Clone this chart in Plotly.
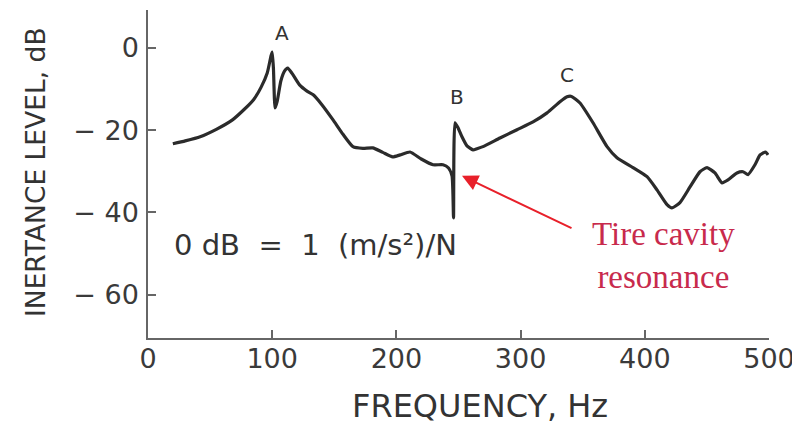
import plotly.graph_objects as go

# Frequency (Hz) and inertance level (dB)
freq = [20, 30, 42, 55, 68, 78, 85, 91, 96, 99, 100, 101, 102.3, 104, 107, 110, 112.5, 116,
        122, 128, 133, 140, 149, 157, 165, 173, 181, 189, 197, 203, 211, 220, 229.5, 237.5,
        242, 244.8, 246, 247.2, 249.6, 252.8, 256.8, 261.7, 264.9, 269.7, 283.4, 297.1, 310,
        321.3, 331.7, 337.4, 341, 347.8, 358.3, 369.6, 377.6, 390.5, 401.8, 409.8, 417.9,
        421.9, 428.3, 436.4, 444.4, 450.1, 456.5, 462.2, 467, 474.2, 479.1, 483.1, 488.7,
        492.8, 497.3, 499.2]
level = [-23.3, -22.6, -21.6, -19.8, -17.5, -14.8, -12.6, -9.6, -6.1, -2.0, -1.0, -5.0, -14.6,
         -13.0, -8.0, -5.6, -4.9, -6.2, -9.0, -10.5, -11.4, -13.8, -17.5, -21.0, -24.0, -24.4,
         -24.3, -25.4, -26.5, -26.0, -25.3, -27.0, -28.4, -28.4, -29.2, -31.1, -41.3, -18.2,
         -19.4, -21.6, -23.8, -24.8, -24.5, -24.0, -21.9, -19.9, -18.0, -15.8, -13.1, -11.9,
         -11.8, -13.4, -18.2, -24.0, -26.7, -29.1, -31.3, -34.5, -38.1, -38.9, -37.6, -33.8,
         -30.1, -29.1, -30.4, -32.8, -32.1, -30.4, -30.1, -30.8, -28.4, -26.0, -25.3, -26.0]

x_ticks = [0, 100, 200, 300, 400, 500]
x_ticktext = ["0", "100", "200", "300", "400", "500"]
y_ticks = [0, -20, -40, -60]
y_ticktext = ["0", "\u2212 20", "\u2212 40", "\u2212 60"]

peak_labels = ["A", "B", "C"]
peak_x = [107.9, 248.8, 337.4]
peak_y = [3.6, -11.9, -6.6]

SANS = "DejaVu Sans, Liberation Sans, Arial, sans-serif"

fig = go.Figure()
fig.add_trace(go.Scatter(x=freq, y=level, mode="lines",
                         line=dict(color="#2b2b2b", width=3.2, shape="spline", smoothing=0.5),
                         showlegend=False))

axis_font = dict(family=SANS, size=27, color="#3a3a3a")

fig.update_layout(
    width=792, height=417,
    margin=dict(l=140, r=31, t=2, b=87),
    paper_bgcolor="white", plot_bgcolor="white",
    font=dict(family=SANS, color="#333333"),
    xaxis=dict(range=[0, 500], tickvals=x_ticks, ticktext=x_ticktext,
               showgrid=False, zeroline=False, showline=True, linecolor="#666666",
               linewidth=1.5, ticks="inside", ticklen=8, tickcolor="#666666",
               tickwidth=1.5, tickfont=axis_font, ticklabelstandoff=-4),
    yaxis=dict(range=[-70.5, 9.2], tickvals=y_ticks, ticktext=y_ticktext,
               showgrid=False, zeroline=False, showline=True, linecolor="#666666",
               linewidth=1.5, ticks="inside", ticklen=8, tickcolor="#666666",
               tickwidth=1.5, tickfont=axis_font, ticklabelstandoff=2),
)

annotations = []
for lab, px, py in zip(peak_labels, peak_x, peak_y):
    annotations.append(dict(x=px, y=py, xref="x", yref="y", text=lab, showarrow=False,
                            font=dict(family=SANS, size=20, color="#333333"),
                            xanchor="center", yanchor="middle"))

annotations.append(dict(x=19.3, y=-47.9, xref="x", yref="y",
                        text="0 dB\u00a0 =\u00a0 1\u00a0 (m/s\u00b2)/N", showarrow=False,
                        font=dict(family=SANS, size=29, color="#333333"),
                        xanchor="left", yanchor="middle"))

annotations.append(dict(x=414.7, y=-50.5, xref="x", yref="y",
                        text="Tire cavity<br>resonance", showarrow=False,
                        font=dict(family="Liberation Serif, Times New Roman, serif",
                                  size=33, color="#c82a4c"),
                        xanchor="center", yanchor="middle"))

annotations.append(dict(x=252.8, y=-31.1, xref="x", yref="y",
                        ax=342.2, ay=-44.0, axref="x", ayref="y",
                        text="", showarrow=True, arrowhead=2, arrowsize=1.6,
                        arrowwidth=2, arrowcolor="#e8202a"))

annotations.append(dict(x=0.535, y=-0.207, xref="paper", yref="paper",
                        text="FREQUENCY, Hz", showarrow=False,
                        font=dict(family=SANS, size=32, color="#333333"),
                        xanchor="center", yanchor="middle"))

annotations.append(dict(x=-0.182, y=0.506, xref="paper", yref="paper",
                        text="INERTANCE LEVEL, dB", showarrow=False, textangle=-90,
                        font=dict(family=SANS, size=26.5, color="#333333"),
                        xanchor="center", yanchor="middle"))

fig.update_layout(annotations=annotations)
fig.write_html("out.html")
